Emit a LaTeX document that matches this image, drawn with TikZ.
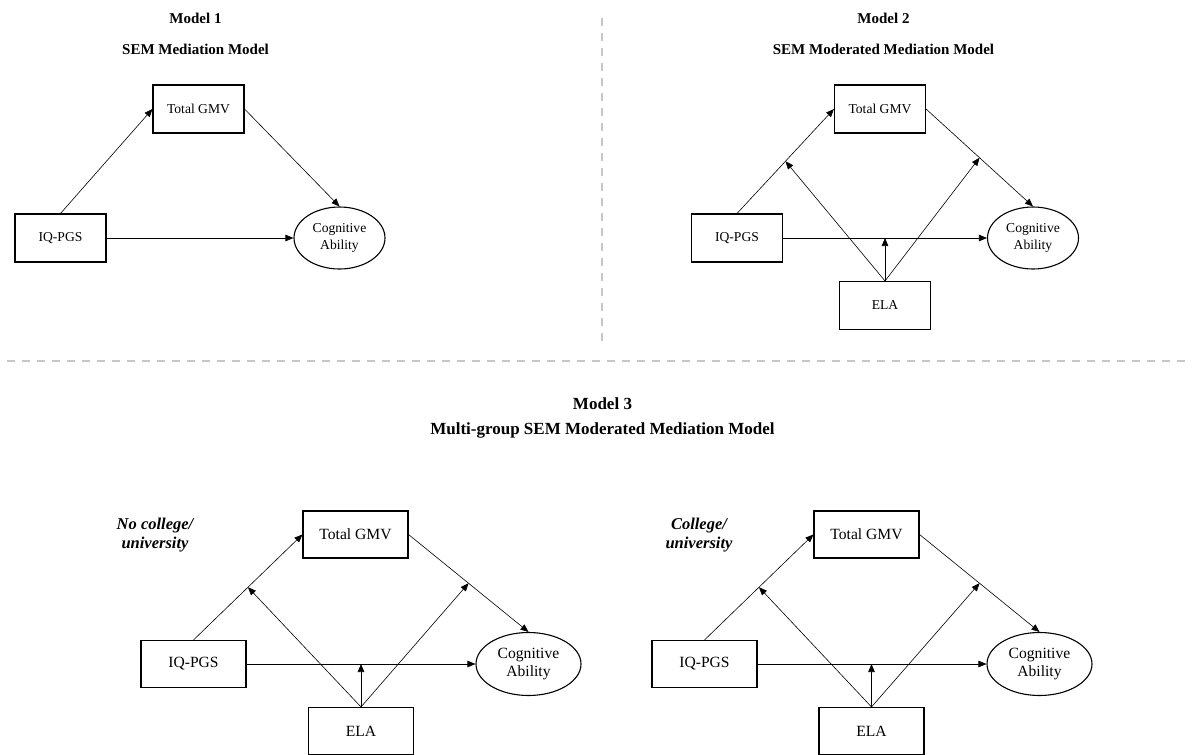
\documentclass[tikz,border=0pt]{standalone}
\usepackage{fontspec}
\setmainfont{Liberation Serif}
\usetikzlibrary{arrows.meta,shapes.geometric,calc}
\begin{document}
\begin{tikzpicture}[x=1pt,y=-1pt,
  box/.style={draw, line width=1.1pt, rectangle, inner sep=0pt, align=center},
  oval/.style={draw, line width=1.1pt, ellipse, inner sep=0pt, align=center},
  arr/.style={-{Triangle[length=8pt,width=6.5pt]}, line width=0.6pt},
  sepline/.style={draw=black!22, line width=1.8pt, dash pattern=on 8pt off 7pt},
  ttlA/.style={font=\fontsize{15}{18}\selectfont\bfseries, anchor=base},
  ttlB/.style={font=\fontsize{17}{20}\selectfont\bfseries, anchor=base},
  txtA/.style={font=\fontsize{13.6}{17.5}\selectfont},
  txtB/.style={font=\fontsize{15.6}{18}\selectfont},
  grp/.style={font=\fontsize{16.5}{18.5}\selectfont\bfseries\itshape, align=center},
  wA/.style={minimum width=91pt, minimum height=48pt},
  eA/.style={minimum width=91pt, minimum height=62pt},
  wB/.style={minimum width=105pt, minimum height=47pt},
  eB/.style={minimum width=105pt, minimum height=63pt}
]
\useasboundingbox (0,0) rectangle (1192,755);

% separators
\coordinate (vtop) at (602,18);
\coordinate (vbot) at (602,342);
\coordinate (hl) at (7,361);
\coordinate (hr) at (1192,361);
\draw[sepline] (vtop) -- (vbot);
\draw[sepline] (hl) -- (hr);

% ---------------- Model 1
\node[ttlA] (t1) at (195.5,23) {Model 1};
\node[ttlA] (s1) at (195.5,54) {SEM Mediation Model};
\node[box, wA, txtA] (gmv1) at (198.5,109) {Total GMV};
\node[box, wA, txtA] (iq1) at (60.5,238) {IQ-PGS};
\node[oval, eA, txtA] (cog1) at (339.5,238) {Cognitive\\Ability};
\draw[arr] (iq1.north) -- (gmv1.west);
\draw[arr] (gmv1.east) -- (cog1.north);
\draw[arr] (iq1.east) -- (cog1.west);

% ---------------- Model 2
\node[ttlA] (t2) at (883.5,23) {Model 2};
\node[ttlA] (s2) at (883.5,54) {SEM Moderated Mediation Model};
\node[box, wA, txtA] (gmv2) at (880,109) {Total GMV};
\node[box, wA, txtA] (iq2) at (737,238) {IQ-PGS};
\node[oval, eA, txtA] (cog2) at (1033,238) {Cognitive\\Ability};
\node[box, wA, txtA] (ela2) at (885,305.5) {ELA};
\draw[arr] (iq2.north) -- (gmv2.west);
\draw[arr] (gmv2.east) -- (cog2.north);
\draw[arr] (iq2.east) -- (cog2.west);
\coordinate (m2a) at ($(iq2.north)!0.5!(gmv2.west)$);
\coordinate (m2b) at ($(gmv2.east)!0.5!(cog2.north)$);
\coordinate (m2c) at (ela2.north |- iq2.east);
\draw[arr] (ela2.north) -- (m2a);
\draw[arr] (ela2.north) -- (m2b);
\draw[arr] (ela2.north) -- (m2c);

% ---------------- Model 3
\node[ttlB] (t3) at (602.5,409) {Model 3};
\node[ttlB] (s3) at (602.5,434) {Multi-group SEM Moderated Mediation Model};

% left group
\node[grp] (g3) at (155,535) {No college/\\university};
\node[box, wB, txtB] (gmv3) at (355.5,534.5) {Total GMV};
\node[box, wB, txtB] (iq3) at (193.5,664) {IQ-PGS};
\node[oval, eB, txtB] (cog3) at (528.5,664) {Cognitive\\Ability};
\node[box, wB, txtB] (ela3) at (361,731) {ELA};
\draw[arr] (iq3.north) -- (gmv3.west);
\draw[arr] (gmv3.east) -- (cog3.north);
\draw[arr] (iq3.east) -- (cog3.west);
\coordinate (m3a) at ($(iq3.north)!0.5!(gmv3.west)$);
\coordinate (m3b) at ($(gmv3.east)!0.5!(cog3.north)$);
\coordinate (m3c) at (ela3.north |- iq3.east);
\draw[arr] (ela3.north) -- (m3a);
\draw[arr] (ela3.north) -- (m3b);
\draw[arr] (ela3.north) -- (m3c);

% right group
\node[grp] (g4) at (699,535) {College/\\university};
\node[box, wB, txtB] (gmv4) at (866.5,534.5) {Total GMV};
\node[box, wB, txtB] (iq4) at (704.5,664) {IQ-PGS};
\node[oval, eB, txtB] (cog4) at (1039.5,664) {Cognitive\\Ability};
\node[box, wB, txtB] (ela4) at (871.5,731) {ELA};
\draw[arr] (iq4.north) -- (gmv4.west);
\draw[arr] (gmv4.east) -- (cog4.north);
\draw[arr] (iq4.east) -- (cog4.west);
\coordinate (m4a) at ($(iq4.north)!0.5!(gmv4.west)$);
\coordinate (m4b) at ($(gmv4.east)!0.5!(cog4.north)$);
\coordinate (m4c) at (ela4.north |- iq4.east);
\draw[arr] (ela4.north) -- (m4a);
\draw[arr] (ela4.north) -- (m4b);
\draw[arr] (ela4.north) -- (m4c);
\end{tikzpicture}
\end{document}
